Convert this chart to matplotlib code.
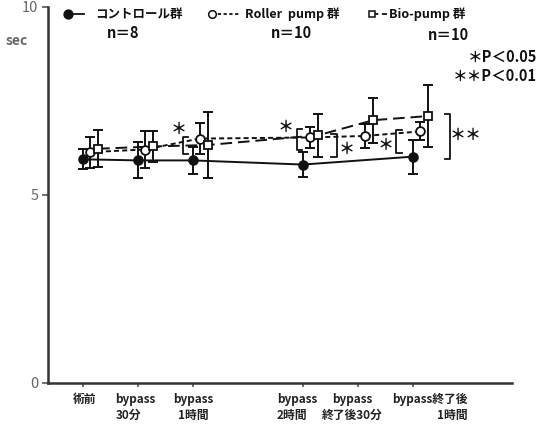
import numpy as np
import matplotlib
matplotlib.use("Agg")
import matplotlib.pyplot as plt
from matplotlib.lines import Line2D
from matplotlib.transforms import ScaledTranslation

plt.rcParams['font.family'] = ['Noto Sans CJK JP', 'DejaVu Sans']

# time points (x position on the axis, gap before 2h) and labels
time_pos = [0, 1, 2, 4, 5, 6]
time_labels = ["術前", "bypass\n30分", "bypass\n1時間", "bypass\n2時間",
               "bypass\n終了後30分", "bypass終了後\n1時間"]

# mean +- SD, sec (control has no value at bypass end +30min)
control_mean = [5.95, 5.92, 5.92, 5.81, np.nan, 6.02]
control_sd = [0.27, 0.48, 0.36, 0.33, np.nan, 0.45]
roller_mean = [6.14, 6.21, 6.50, 6.53, 6.57, 6.69]
roller_sd = [0.41, 0.48, 0.41, 0.27, 0.32, 0.24]
bio_mean = [6.23, 6.29, 6.33, 6.59, 6.99, 7.10]
bio_sd = [0.49, 0.41, 0.88, 0.57, 0.60, 0.82]

group_names = ["コントロール群", "Roller  pump 群", "Bio-pump 群"]
group_n = ["n＝8", "n＝10", "n＝10"]

# significance marks (x, y, text) and brackets (x, y_low, y_high, side)
star_marks = [(1.74, 6.75, "*"), (3.68, 6.82, "*"), (4.79, 6.23, "*"),
              (5.51, 6.32, "*"), (6.95, 6.61, "**")]
brackets = [(1.82, 6.08, 6.53, 1), (3.89, 6.21, 6.75, 1), (4.62, 6.02, 6.61, -1),
            (5.70, 6.13, 6.72, 1), (6.68, 5.97, 7.15, -1)]

W, H = 548, 425
fig = plt.figure(figsize=(W / 100, H / 100), dpi=100)
ax = fig.add_axes([48 / W, 1 - 383 / H, 464 / W, 376 / H])

ink = '#111111'
x = np.array(time_pos, dtype=float)


def draw(xs, mean, sd, marker, face, ls, ms):
    mean = np.array(mean, dtype=float)
    sd = np.array(sd, dtype=float)
    ok = np.isfinite(mean)
    ax.errorbar(xs[ok], mean[ok], yerr=sd[ok], fmt='none', ecolor=ink,
                elinewidth=1.4, capsize=3.5, capthick=1.4, zorder=2)
    line, = ax.plot(xs[ok], mean[ok], color=ink, lw=1.4, zorder=3)
    if ls is not None:
        line.set_dashes(ls)
    ax.plot(xs[ok], mean[ok], ls='none', marker=marker, ms=ms, mfc=face,
            mec=ink, mew=1.3, zorder=4)


draw(x, control_mean, control_sd, 'o', ink, None, 6.3)
draw(x + 0.125, roller_mean, roller_sd, 'o', 'white', (2.6, 1.6), 6.3)
draw(x + 0.28, bio_mean, bio_sd, 's', 'white', (6, 3), 5.6)

for sx, sy, s in star_marks:
    ax.text(sx, sy, s.replace("*", "＊"), ha='center', va='center',
            fontsize=11.5, fontweight='bold', color=ink)
for bx, y0, y1, side in brackets:
    t = 0.1 * side
    ax.plot([bx + t, bx, bx, bx + t], [y0, y0, y1, y1], color=ink, lw=1.3,
            zorder=3)

ax.set_xlim(-0.63, 7.8)
ax.set_ylim(0, 10)
ax.set_yticks([0, 5, 10])
ax.set_xticks(time_pos)
ax.set_xticklabels(time_labels, fontsize=8.5, fontweight='bold',
                   color='#222222', linespacing=1.35)
ax.tick_params(axis='y', length=4, width=1.2, color='#555555', pad=3,
               labelsize=10.5, labelcolor='#666666')
ax.tick_params(axis='x', length=3, width=1.2, color='#555555', pad=4)
for side in ['top', 'right']:
    ax.spines[side].set_visible(False)
for side in ['left', 'bottom']:
    ax.spines[side].set_linewidth(1.8)
    ax.spines[side].set_color('#333333')

# per-label alignment of the two-line tick labels
align = ['center', 'left', 'center', 'left', 'center', 'right']
shift = [2, -2, 0, -6, -6, 17]
for lab, al, dx in zip(ax.get_xticklabels(), align, shift):
    lab.set_multialignment(al)
    lab.set_transform(lab.get_transform() + ScaledTranslation(dx / 100, 0, fig.dpi_scale_trans))

fig.text(17 / W, 1 - 41 / H, "sec", fontsize=10, fontweight='bold',
         color='#666666', ha='center', va='center')


# legend row drawn at the top
def fx(px):
    return px / W


def fy(py):
    return 1 - py / H


ly = 14
entries = [(68, 84, None, 'o', ink, 6.3, 95),
           (212, 240, (1.8, 1.4), 'o', 'white', 5.5, 245),
           (372, 387, (3.5, 2), 's', 'white', 5, 389)]
for (mx, lx, dash, mk, face, ms, tx), name in zip(entries, group_names):
    ln = Line2D([fx(mx), fx(lx)], [fy(ly), fy(ly)], color=ink, lw=1.3,
                transform=fig.transFigure)
    if dash is not None:
        ln.set_dashes(dash)
    fig.add_artist(ln)
    fig.add_artist(Line2D([fx(mx)], [fy(ly)], ls='none', marker=mk, ms=ms,
                          mfc=face, mec=ink, mew=1.1, transform=fig.transFigure))
    fig.text(fx(tx), fy(ly), name, fontsize=9, fontweight='bold', color=ink,
             ha='left', va='center')

for cx, cy, s in zip([123, 291, 448], [33, 33, 35], group_n):
    fig.text(fx(cx), fy(cy), s, fontsize=10.5, fontweight='bold', color=ink,
             ha='center', va='center')

fig.text(fx(537), fy(57), "＊P＜0.05", fontsize=10.5, fontweight='bold',
         color=ink, ha='right', va='center')
fig.text(fx(537), fy(76), "＊＊P＜0.01", fontsize=10.5, fontweight='bold',
         color=ink, ha='right', va='center')

fig.savefig("out.png", dpi=100)
